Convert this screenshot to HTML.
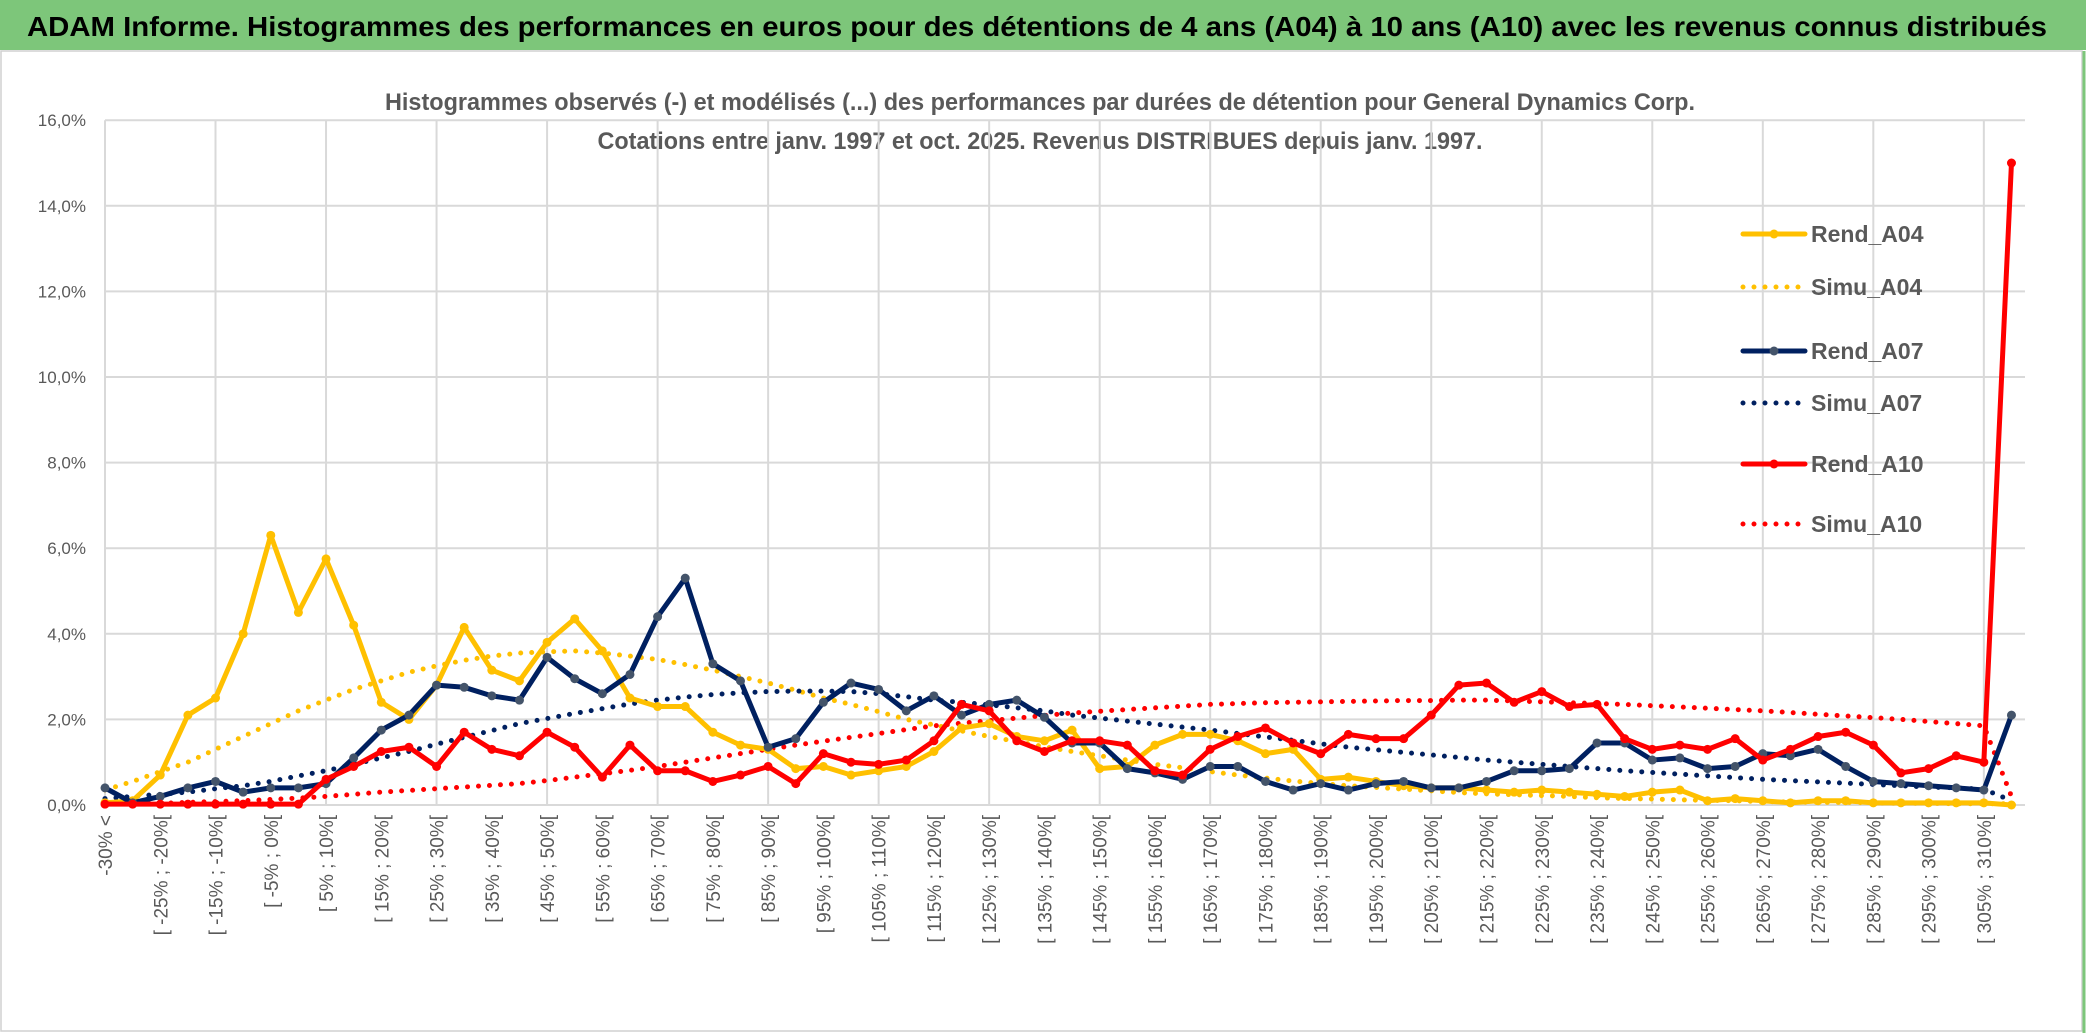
<!DOCTYPE html>
<html><head><meta charset="utf-8">
<style>
html,body{margin:0;padding:0;background:#fff;}
svg{display:block;font-family:"Liberation Sans",sans-serif;}
</style></head>
<body>
<svg id="chart" width="2086" height="1033" viewBox="0 0 2086 1033" xmlns="http://www.w3.org/2000/svg">
<rect x="0" y="0" width="2086" height="1033" fill="#fff"/>
<rect x="0" y="0" width="2086" height="50" fill="#7dc67a"/>
<text x="27" y="36" font-size="28" font-weight="bold" fill="#000" textLength="2020" lengthAdjust="spacingAndGlyphs">ADAM Informe. Histogrammes des performances en euros pour des détentions de 4 ans (A04) à 10 ans (A10) avec les revenus connus distribués</text>
<rect x="1" y="51" width="2081" height="980" fill="none" stroke="#d0d0d0" stroke-width="1.5"/>
<line x1="2084" y1="51" x2="2084" y2="1033" stroke="#7dc67a" stroke-width="3"/>
<text x="1040" y="110" font-size="24" font-weight="bold" fill="#595959" text-anchor="middle" textLength="1310" lengthAdjust="spacingAndGlyphs">Histogrammes observés (-) et modélisés (...) des performances par durées de détention pour General Dynamics Corp.</text>
<text x="1040" y="149" font-size="24" font-weight="bold" fill="#595959" text-anchor="middle" textLength="885" lengthAdjust="spacingAndGlyphs">Cotations entre janv. 1997 et oct. 2025. Revenus DISTRIBUES depuis janv. 1997.</text>
<g id="grid"></g>
<g id="yaxis"></g>
<g id="xaxis"></g>
<g id="series"></g>
<g id="legend"></g>
</svg>
<script>
const categories = (function(){ const c=["-30% <"]; for(let a=-30;a<310;a+=5){c.push("[ "+a+"% ; "+(a+5)+"%[");} c.push("> 310%"); return c; })();
const yTicks = [0,2,4,6,8,10,12,14,16];
const yTickLabels = ["0,0%","2,0%","4,0%","6,0%","8,0%","10,0%","12,0%","14,0%","16,0%"];
const rendA04 = [0.05,0.1,0.7,2.1,2.5,4.0,6.3,4.5,5.75,4.2,2.4,2.0,2.8,4.15,3.15,2.9,3.8,4.35,3.6,2.5,2.3,2.3,1.7,1.4,1.3,0.85,0.9,0.7,0.8,0.9,1.25,1.8,1.9,1.6,1.5,1.75,0.85,0.9,1.4,1.65,1.65,1.5,1.2,1.3,0.6,0.65,0.55,0.45,0.4,0.4,0.35,0.3,0.35,0.3,0.25,0.2,0.3,0.35,0.1,0.15,0.1,0.05,0.1,0.1,0.05,0.05,0.05,0.05,0.05,0.0];
const rendA07 = [0.4,0.05,0.2,0.4,0.55,0.3,0.4,0.4,0.5,1.1,1.75,2.1,2.8,2.75,2.55,2.45,3.45,2.95,2.6,3.05,4.4,5.3,3.3,2.9,1.35,1.55,2.4,2.85,2.7,2.2,2.55,2.1,2.35,2.45,2.05,1.45,1.45,0.85,0.75,0.6,0.9,0.9,0.55,0.35,0.5,0.35,0.5,0.55,0.4,0.4,0.55,0.8,0.8,0.85,1.45,1.45,1.05,1.1,0.85,0.9,1.2,1.15,1.3,0.9,0.55,0.5,0.45,0.4,0.35,2.1];
const rendA10 = [0.02,0.02,0.02,0.02,0.02,0.02,0.02,0.02,0.6,0.9,1.25,1.35,0.9,1.7,1.3,1.15,1.7,1.35,0.65,1.4,0.8,0.8,0.55,0.7,0.9,0.5,1.2,1.0,0.95,1.05,1.5,2.35,2.2,1.5,1.25,1.5,1.5,1.4,0.8,0.7,1.3,1.6,1.8,1.45,1.2,1.65,1.55,1.55,2.1,2.8,2.85,2.4,2.65,2.3,2.35,1.55,1.3,1.4,1.3,1.55,1.05,1.3,1.6,1.7,1.4,0.75,0.85,1.15,1.0,15.0];
const simuA04 = [0.35,0.55,0.78,1.0,1.3,1.6,1.9,2.2,2.45,2.7,2.9,3.1,3.25,3.38,3.48,3.55,3.58,3.6,3.55,3.48,3.4,3.28,3.15,3.0,2.85,2.68,2.5,2.35,2.18,2.0,1.87,1.73,1.6,1.48,1.36,1.25,1.15,1.05,0.95,0.87,0.78,0.7,0.63,0.56,0.5,0.45,0.41,0.37,0.33,0.29,0.26,0.24,0.22,0.2,0.17,0.15,0.14,0.12,0.11,0.1,0.08,0.07,0.06,0.06,0.05,0.04,0.04,0.03,0.03,0.03];
const simuA07 = [0.15,0.2,0.25,0.3,0.38,0.45,0.55,0.68,0.8,0.95,1.1,1.25,1.42,1.58,1.74,1.9,2.02,2.14,2.25,2.36,2.45,2.52,2.58,2.62,2.65,2.66,2.66,2.65,2.6,2.53,2.45,2.4,2.34,2.27,2.2,2.1,2.03,1.96,1.89,1.82,1.75,1.67,1.59,1.51,1.43,1.35,1.29,1.23,1.17,1.11,1.05,1.0,0.95,0.9,0.85,0.8,0.76,0.72,0.68,0.64,0.6,0.57,0.54,0.51,0.48,0.45,0.42,0.4,0.37,0.1];
const simuA10 = [0.02,0.03,0.04,0.06,0.08,0.1,0.13,0.16,0.2,0.25,0.3,0.34,0.38,0.42,0.46,0.5,0.57,0.65,0.73,0.81,0.9,1.0,1.1,1.2,1.3,1.4,1.49,1.58,1.67,1.76,1.85,1.91,1.97,2.03,2.09,2.15,2.19,2.23,2.27,2.31,2.35,2.37,2.39,2.4,2.41,2.42,2.43,2.44,2.44,2.45,2.45,2.43,2.41,2.39,2.37,2.35,2.32,2.29,2.26,2.23,2.2,2.16,2.12,2.08,2.04,2.0,1.95,1.9,1.85,0.2];

const NS="http://www.w3.org/2000/svg";
const X0=105, DX=27.63, Y0=805, PY=85.6/2;
function xs(i){return X0+i*DX;}
function ys(v){return Y0-v*PY;}
function mk(tag,attrs,parent){const e=document.createElementNS(NS,tag);for(const k in attrs)e.setAttribute(k,attrs[k]);parent.appendChild(e);return e;}
const grid=document.getElementById('grid'), yax=document.getElementById('yaxis'), xax=document.getElementById('xaxis'), ser=document.getElementById('series'), leg=document.getElementById('legend');
const XR=2025;
yTicks.forEach((t,k)=>{
  const l=mk('line',{x1:X0,x2:XR,y1:ys(t),y2:ys(t),stroke:'#d9d9d9','stroke-width':2},grid);
  
  
  const tx=mk('text',{x:86,y:ys(t)+6,'font-size':17,fill:'#595959','text-anchor':'end'},yax);
  tx.textContent=yTickLabels[k];
  
  
});
for(let i=0;i<categories.length;i+=4){
  const l=mk('line',{x1:xs(i),x2:xs(i),y1:ys(16),y2:Y0,stroke:'#d9d9d9','stroke-width':2},grid);
  
  
}
for(let i=0;i<categories.length;i+=2){
  const tx=mk('text',{x:0,y:0,'font-size':19,fill:'#595959','text-anchor':'end','xml:space':'preserve',transform:'translate('+(xs(i)+7)+',815) rotate(-90)'},xax);
  tx.textContent=(i===0?"      ":"")+categories[i];
  
  
}
function dotted(data,color,name){
  const p=mk('polyline',{points:data.map((v,i)=>xs(i)+','+ys(v)).join(' '),fill:'none',stroke:color,'stroke-width':5,'stroke-linecap':'round','stroke-dasharray':'0 11'},ser);
  
  
}
function solid(data,color,mcolor,name){
  const g=mk('g',{},ser);
  
  
  mk('polyline',{points:data.map((v,i)=>xs(i)+','+ys(v)).join(' '),fill:'none',stroke:color,'stroke-width':5,'stroke-linejoin':'round'},g);
  data.forEach((v,i)=>{
    const c=mk('circle',{cx:xs(i),cy:ys(v),r:4.5,fill:mcolor},g);
    
    
  });
}
dotted(simuA04,'#ffc000','simu-a04-line');
dotted(simuA07,'#002060','simu-a07-line');
dotted(simuA10,'#ff0000','simu-a10-line');
solid(rendA04,'#ffc000','#ffc000','rend-a04-line');
solid(rendA07,'#002060','#44546a','rend-a07-line');
solid(rendA10,'#ff0000','#ff0000','rend-a10-line');
const legItems=[["Rend_A04",'#ffc000',false,234],["Simu_A04",'#ffc000',true,287],["Rend_A07",'#002060',false,351],["Simu_A07",'#002060',true,403],["Rend_A10",'#ff0000',false,464],["Simu_A10",'#ff0000',true,524]];
legItems.forEach(it=>{
  const g=mk('g',{},leg);
  
  
  const a={x1:1743,x2:1805,y1:it[3],y2:it[3],stroke:it[1],'stroke-width':5,'stroke-linecap':'round'};
  if(it[2])a['stroke-dasharray']='0 11';
  mk('line',a,g);
  if(!it[2])mk('circle',{cx:1774,cy:it[3],r:4.5,fill:it[1]==='#002060'?'#44546a':it[1]},g);
  const t=mk('text',{x:1811,y:it[3]+8,'font-size':23,'font-weight':'bold',fill:'#595959'},g);
  t.textContent=it[0];
});
</script>
</body></html>
